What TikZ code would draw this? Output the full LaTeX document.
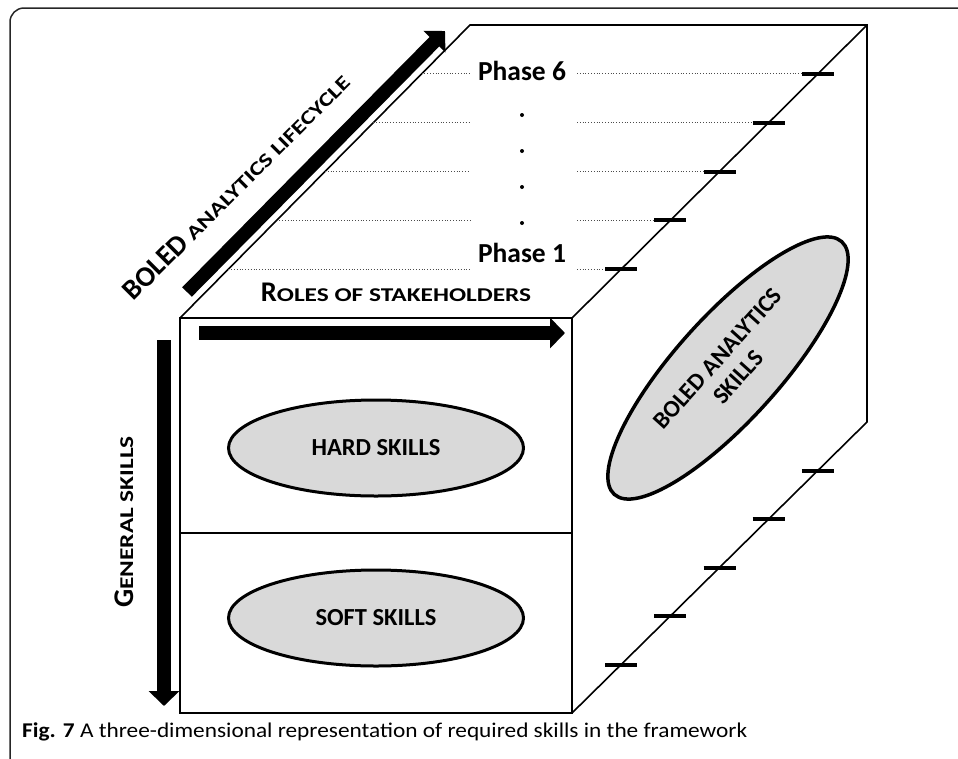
\documentclass[tikz,border=0pt]{standalone}
\usepackage{fontspec}
\setmainfont{Carlito}
\usetikzlibrary{calc,shapes.geometric,arrows.meta}

\definecolor{skillgrey}{RGB}{217,217,217}
% big first letters, small caps for the rest
\newcommand{\capsc}[2]{\bfseries{\fontsize{28.5}{30}\selectfont #1}\scalebox{1.3}[1]{\fontsize{19.5}{22}\selectfont #2}}

\begin{document}
\begin{tikzpicture}[x=1pt,y=-1pt,
  edge/.style={line width=1.6pt},
  skill/.style={ellipse,draw,line width=3pt,fill=skillgrey,inner sep=0pt,font=\bfseries\fontsize{24.5}{27}\selectfont},
  blockarrow/.style={line width=13.5pt,-{Triangle[length=15pt,width=30pt]}},
  phaseline/.style={dotted,line width=0.8pt,black!70},
  phasemark/.style={line width=4pt},
  lbl/.style={font=\bfseries\fontsize{27.5}{28}\selectfont,inner sep=0pt}]
\useasboundingbox (0,0) rectangle (958,758);
\clip (0,0) rectangle (958,758);

% --- outer frame, open to the right and at the bottom
\draw[line width=1.5pt,black!85,rounded corners=14pt] (990,8) -- (10,8) -- (10,775) -- (990,775);

% --- cube corners
\coordinate (A) at (180,318); % front top left
\coordinate (B) at (572,318); % front top right
\coordinate (C) at (572,713); % front bottom right
\coordinate (D) at (180,713); % front bottom left
\coordinate (E) at (470,25);  % back top left
\coordinate (F) at (867,25);  % back top right
\coordinate (G) at (867,422); % back bottom right
\coordinate (M) at (180,533);
\coordinate (N) at (572,533);

\draw[edge] (A) -- (B) -- (C) -- (D) -- cycle; % front face
\draw[edge] (M) -- (N);                        % hard / soft split
\draw[edge] (A) -- (E) -- (F) -- (G) -- (C);   % top and right faces
\draw[edge] (B) -- (F);

% --- phases on the top face, marks on both diagonals
\coordinate (lend) at (470,0);
\coordinate (rstart) at (577,0);
\foreach \k in {1,...,5}{
  \coordinate (pl\k) at ($(A)!\k/6!(E)$);
  \coordinate (pr\k) at ($(B)!\k/6!(F)$);
  \coordinate (q\k) at ($(C)!\k/6!(G)$);
  \draw[phaseline] (pl\k) -- (pl\k -| lend);
  \draw[phaseline] (pr\k -| rstart) -- (pr\k);
  \draw[phasemark] ($(pr\k)+(-16,0)$) -- ($(pr\k)+(16,0)$);
  \draw[phasemark] ($(q\k)+(-16,0)$) -- ($(q\k)+(16,0)$);
}
\node[lbl,anchor=base] (ph6) at (522,80) {Phase 6};
\node[lbl,anchor=base] (ph1) at (522,262) {Phase 1};
\foreach \y in {115,151,187,223} \fill (522,\y) circle (2pt);

% --- skills
\node[skill,minimum width=295pt,minimum height=96pt] (hard) at (376,448) {HARD SKILLS};
\node[skill,minimum width=295pt,minimum height=96pt] (soft) at (376,618) {SOFT SKILLS};
\node[skill,line width=3.5pt,minimum width=340pt,minimum height=104pt,rotate=48,align=center,
      font=\bfseries\fontsize{24}{28}\selectfont] (boled) at (728,368) {BOLED ANALYTICS\\SKILLS};

% --- axes
\coordinate (lc0) at (187,292); \coordinate (lc1) at (445,31);
\coordinate (ro0) at (199,333); \coordinate (ro1) at (565,333);
\coordinate (ge0) at (164,340); \coordinate (ge1) at (164,706);
\draw[blockarrow] (lc0) -- (lc1);
\draw[blockarrow] (ro0) -- (ro1);
\draw[blockarrow] (ge0) -- (ge1);

\node[rotate=45,inner sep=0pt] (lifecycle) at (236,186) {\capsc{BOLED}{ ANALYTICS LIFECYCLE}};
\node[inner sep=0pt] (roles) at (396,292) {\capsc{R}{OLES OF STAKEHOLDERS}};
\node[rotate=90,inner sep=0pt] (general) at (124,522) {\capsc{G}{ENERAL SKILLS}};

% --- caption
\node[anchor=base west,inner sep=0pt] (caption) at (22,737)
  {\scalebox{1.11}[1]{\fontsize{21}{24}\selectfont\textbf{Fig. 7} A three-dimensional representation of required skills in the framework}};
\end{tikzpicture}
\end{document}
